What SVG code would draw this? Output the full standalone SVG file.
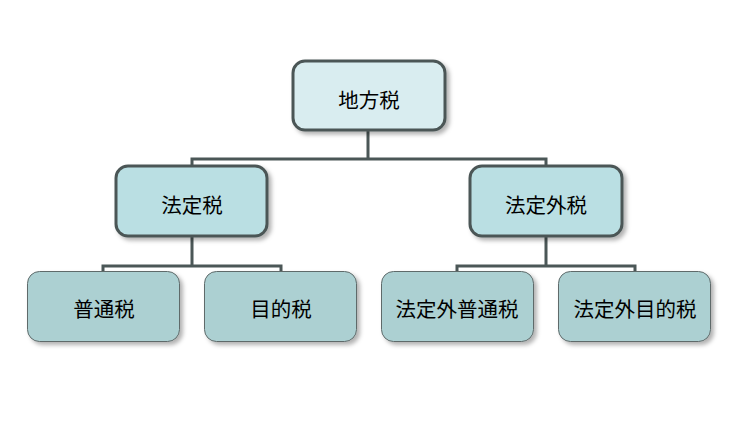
<svg xmlns="http://www.w3.org/2000/svg" width="746" height="426" viewBox="0 0 746 426">
<style>
.t{font-family:"Noto Sans CJK JP","Noto Sans CJK SC",sans-serif;font-size:20.5px;fill:#000;text-anchor:middle;dominant-baseline:central}
.top{fill:#d9edf0;stroke:#4b5757;stroke-width:3}
.mid{fill:#badfe3;stroke:#4b5757;stroke-width:3}
.leaf{fill:#acd0d2;stroke:#5e6a6a;stroke-width:1}
.c{fill:none;stroke:#4b5757;stroke-width:3}
</style>
<defs>
<filter id="sh" x="-10%" y="-10%" width="130%" height="140%">
<feDropShadow dx="3" dy="3" stdDeviation="2" flood-color="#000" flood-opacity="0.3"/>
</filter>
</defs>
<g id="connectors">
<path class="c" d="M368 131V159M192 166V159H546V166"/>
<path class="c" d="M192 237V266M103 272V266H281V272"/>
<path class="c" d="M546 237V266M457 272V266H635V272"/>
</g>
<g id="root"><rect class="top" filter="url(#sh)" x="293" y="61" width="152" height="69" rx="12"/><text class="t" x="369" y="99">地方税</text></g>
<g id="hoteizei"><rect class="mid" filter="url(#sh)" x="116" y="166" width="151" height="70" rx="12"/><text class="t" x="192" y="204">法定税</text></g>
<g id="hoteigaizei"><rect class="mid" filter="url(#sh)" x="470" y="166" width="152" height="70" rx="12"/><text class="t" x="546" y="204">法定外税</text></g>
<g id="futsuzei"><rect class="leaf" filter="url(#sh)" x="27.5" y="271.5" width="152" height="70" rx="12"/><text class="t" x="104" y="308">普通税</text></g>
<g id="mokutekizei"><rect class="leaf" filter="url(#sh)" x="204.5" y="271.5" width="152" height="70" rx="12"/><text class="t" x="281" y="308">目的税</text></g>
<g id="hoteigaifutsuzei"><rect class="leaf" filter="url(#sh)" x="381.5" y="271.5" width="152" height="70" rx="12"/><text class="t" x="457" y="308">法定外普通税</text></g>
<g id="hoteigaimokutekizei"><rect class="leaf" filter="url(#sh)" x="558.5" y="271.5" width="152" height="70" rx="12"/><text class="t" x="635" y="308">法定外目的税</text></g>
</svg>
